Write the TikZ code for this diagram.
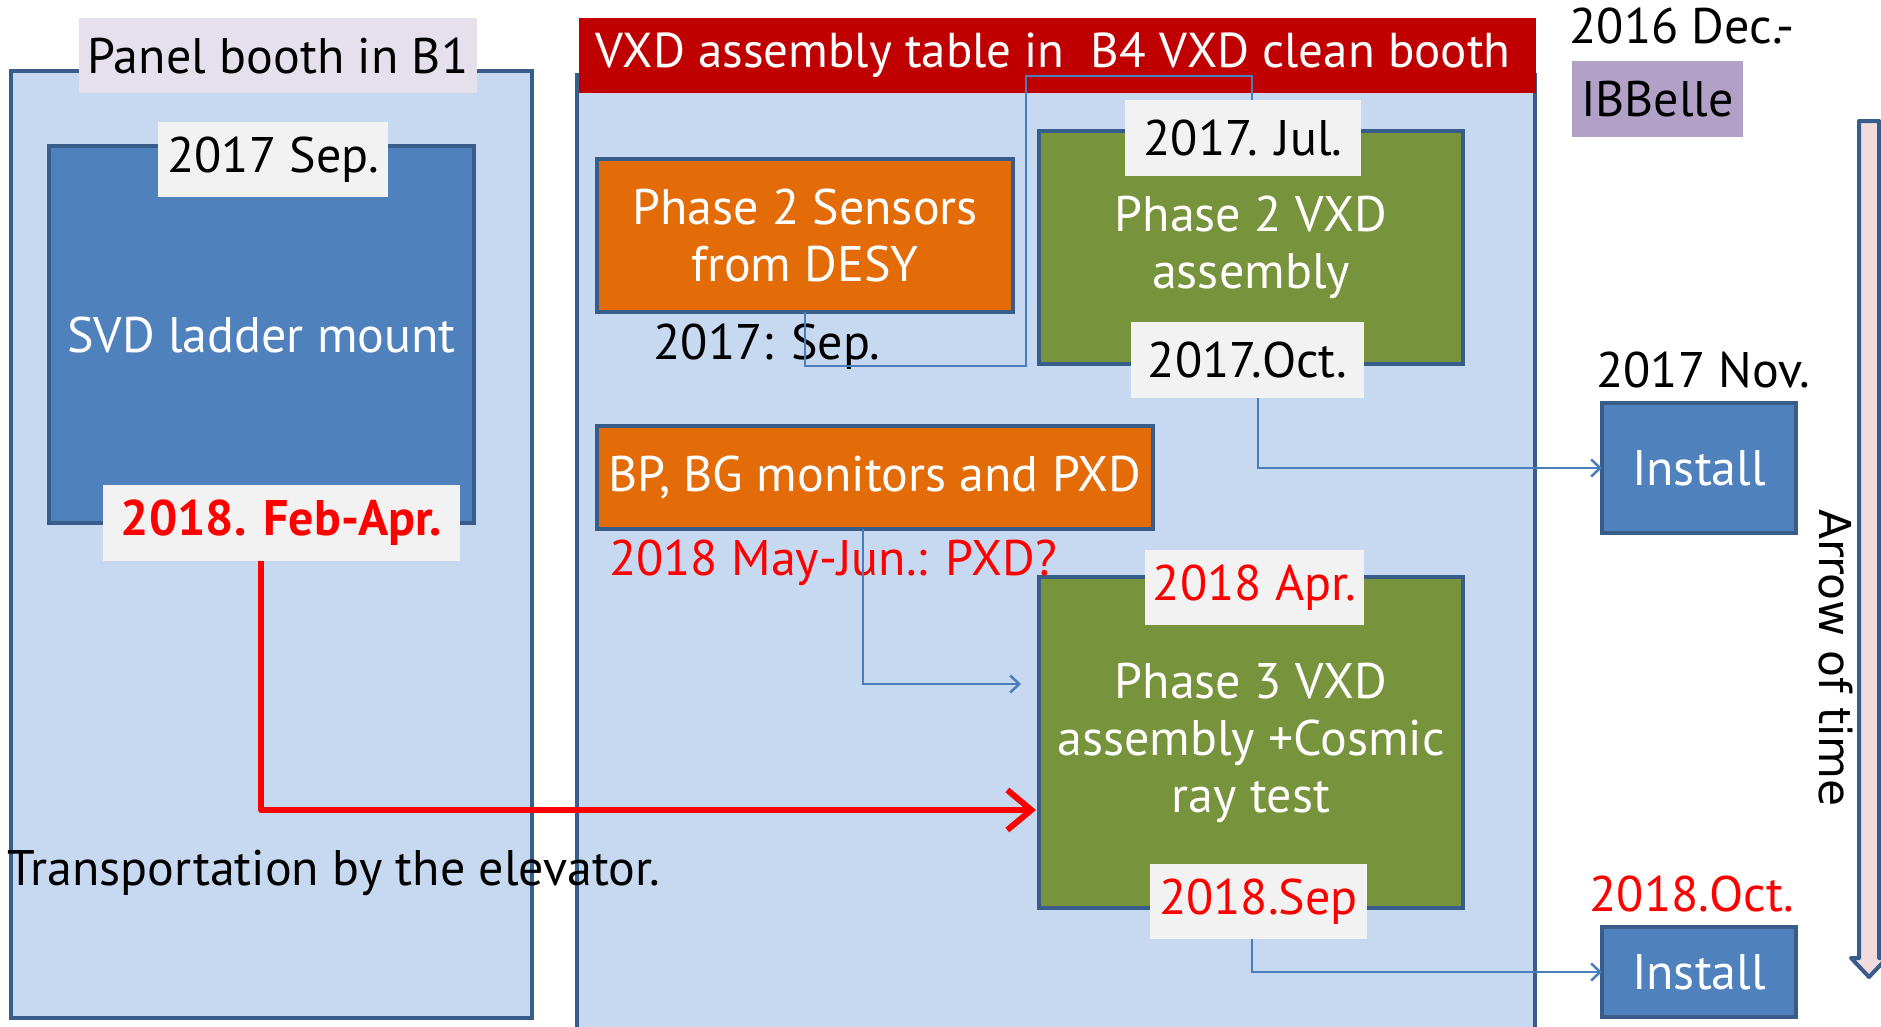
\documentclass[tikz,border=0pt]{standalone}
\usepackage{fontspec}
\setmainfont{PT Sans}
\newfontfamily\arrowfont{DejaVu Sans}
\usetikzlibrary{arrows.meta}
\definecolor{panelblue}{HTML}{C6D9F1}
\definecolor{edgeblue}{HTML}{385D8A}
\definecolor{boxblue}{HTML}{4F81BD}
\definecolor{orangebox}{HTML}{E36C09}
\definecolor{greenbox}{HTML}{77933C}
\definecolor{headred}{HTML}{C00000}
\definecolor{labgray}{HTML}{F2F2F2}
\definecolor{lavender}{HTML}{E6E0EC}
\definecolor{purplebox}{HTML}{B2A1C7}
\definecolor{pinkfill}{HTML}{F2DCDB}
\definecolor{connblue}{HTML}{4A7EBB}
\definecolor{txtred}{HTML}{FF0000}
\newcommand\bigtxt{\fontsize{50}{57}\selectfont}
\newcommand\headtxt{\fontsize{49}{57}\selectfont}
\begin{document}
\begin{tikzpicture}[x=1pt,y=-1pt,
  base/.style={inner sep=0pt, outer sep=0pt, font=\bigtxt, align=center},
  panel/.style={base, fill=panelblue, draw=edgeblue, line width=4pt},
  bluebox/.style={base, fill=boxblue, draw=edgeblue, line width=4.5pt, text=white},
  orangebox/.style={base, fill=orangebox, draw=edgeblue, line width=4.5pt, text=white},
  greenbox/.style={base, fill=greenbox, draw=edgeblue, line width=4.5pt, text=white},
  lab/.style={base, fill=labgray},
  txt/.style={base},
  conn/.style={draw=connblue, line width=2pt},
  connarrow/.style={conn, -{Straight Barb[length=9pt,width=17pt,line width=2.5pt]}},
  redarrow/.style={draw=txtred, line width=6pt, line cap=round, line join=round,
     -{Straight Barb[length=24pt,width=40pt,line width=6pt]}}
]
\useasboundingbox (0,0) rectangle (1881,1026);
\fill[white] (0,0) rectangle (1881,1026);

% panels
\node[panel, minimum width=521pt, minimum height=947pt] (lp) at (271.5,544.5) {};
\node[panel, minimum width=958pt, minimum height=955pt] (rp) at (1056,552) {};
\node[base, fill=headred, text=white, font=\headtxt, minimum width=957pt, minimum height=75pt, anchor=north west, text width=945pt, align=flush left] (head) at (579,18) {\raisebox{-5pt}{\hspace*{10pt}VXD assembly table in\ \ B4 VXD clean booth}};
\node[base, fill=lavender, minimum width=398pt, minimum height=75pt] (plab) at (278,55.5) {Panel booth in B1};

% boxes
\node[bluebox, minimum width=425pt, minimum height=377pt] (svd) at (261.5,334.5) {SVD ladder mount};
\node[orangebox, minimum width=416pt, minimum height=153pt] (sens) at (805,235.5) {Phase 2 Sensors\\from DESY};
\node[greenbox, minimum width=424pt, minimum height=233pt] (ph2) at (1251,247.5) {Phase 2 VXD\\assembly};
\node[orangebox, minimum width=556pt, minimum height=103pt] (bp) at (875,477.5) {BP, BG monitors and PXD};
\node[greenbox, minimum width=424pt, minimum height=331pt] (ph3) at (1251,742.5) {Phase 3 VXD\\assembly +Cosmic\\ray test};
\node[bluebox, minimum width=194pt, minimum height=130pt] (ins1) at (1699,468) {Install};
\node[bluebox, minimum width=194pt, minimum height=90pt] (ins2) at (1699,972) {Install};
\node[base, fill=purplebox, minimum width=171pt, minimum height=76pt] (ibb) at (1657.5,99) {IBBelle};

% free texts
\node[txt] (sep17) at (767,347) {2017: Sep.};
\node[txt, text=txtred] (pxd) at (833,563) {2018 May-Jun.: PXD?};
\node[txt] (nov) at (1703,370) {2017 Nov.};
\node[txt, text=txtred] (oct18) at (1692,894) {2018.Oct.};
\node[txt] (dec) at (1682,26) {2016 Dec.-};
\node[txt, anchor=west] (trans) at (8,873) {Transportation by the elevator.};

% connectors
\coordinate (a1) at (805,366);
\coordinate (a2) at (1026,366);
\coordinate (a3) at (1026,76);
\coordinate (a4) at (1252,76);
\coordinate (a5) at (1252,100);
\draw[conn] (sens.south) -- (a1) -- (a2) -- (a3) -- (a4) -- (a5);
\coordinate (b1) at (1258,398);
\coordinate (b2) at (1258,468);
\draw[connarrow] (b1) -- (b2) -- (ins1.west);
\coordinate (c1) at (863,529);
\coordinate (c2) at (863,684);
\coordinate (c3) at (1021,684);
\draw[connarrow] (c1) -- (c2) -- (c3);
\coordinate (d1) at (1252,939);
\coordinate (d2) at (1252,972);
\draw[connarrow] (d1) -- (d2) -- (ins2.west);
\coordinate (e1) at (261,561);
\coordinate (e2) at (261,810);
\coordinate (e3) at (1036,810);
\draw[redarrow] (e1) -- (e2) -- (e3);

% date labels
\node[lab, minimum width=230pt, minimum height=75pt] (l17sep) at (273,159.5) {2017 Sep.};
\node[lab, minimum width=357pt, minimum height=76pt, text=txtred, font=\bigtxt\bfseries] (lfeb) at (281.5,523) {2018. Feb-Apr.};
\node[lab, minimum width=236pt, minimum height=76pt] (ljul) at (1243,138) {2017. Jul.};
\node[lab, minimum width=233pt, minimum height=76pt] (loct) at (1247.5,360) {2017.Oct.};
\node[lab, minimum width=219pt, minimum height=75pt, text=txtred] (lapr) at (1254.5,587.5) {2018 Apr.};
\node[lab, minimum width=217pt, minimum height=75pt, text=txtred] (lsep18) at (1258.5,901.5) {2018.Sep};

% arrow of time
\draw[fill=pinkfill, draw=edgeblue, line width=4pt, line join=round]
  (1859,121) -- (1879,121) -- (1879,958) -- (1887,958) -- (1869,977) -- (1851,958) -- (1859,958) -- cycle;
\node[base, rotate=-90, font=\arrowfont\fontsize{44}{52}\selectfont] (aot) at (1836,658) {Arrow of time};
\end{tikzpicture}
\end{document}
